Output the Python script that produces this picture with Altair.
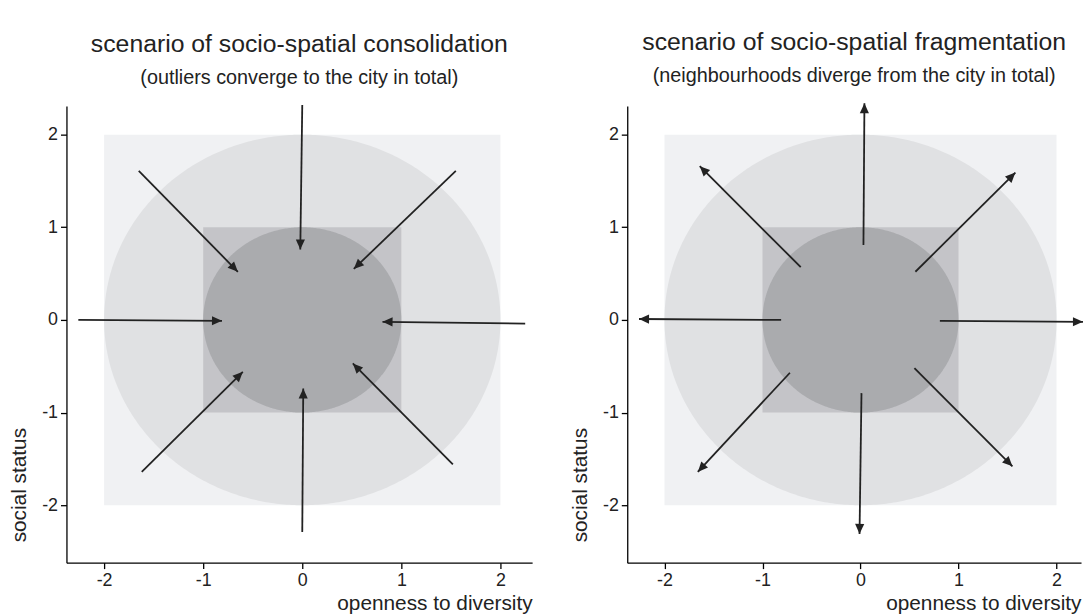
import math
import altair as alt
import pandas as pd

# ---- data -------------------------------------------------------------
titles = ["scenario of socio-spatial consolidation", "scenario of socio-spatial fragmentation"]
subtitles = ["(outliers converge to the city in total)", "(neighbourhoods diverge from the city in total)"]
tick_values = [-2, -1, 0, 1, 2]

outer_half = 2.0   # outer square / outer circle radius
inner_half = 1.0   # inner square / inner circle radius

# consolidation arrows (start -> end)
con_x0 = [0.00, -1.65, 1.55, -2.26, 2.25, -1.62, 1.52, 0.00]
con_y0 = [2.32, 1.61, 1.61, 0.00, -0.04, -1.64, -1.56, -2.29]
con_x1 = [-0.02, -0.65, 0.52, -0.81, 0.81, -0.60, 0.51, 0.01]
con_y1 = [0.76, 0.52, 0.55, -0.01, -0.02, -0.56, -0.47, -0.74]

# fragmentation arrows (start -> end)
fra_x0 = [0.03, -0.61, 0.56, -0.81, 0.81, -0.72, 0.55, 0.01]
fra_y0 = [0.81, 0.57, 0.52, 0.00, -0.01, -0.57, -0.52, -0.79]
fra_x1 = [0.04, -1.64, 1.58, -2.26, 2.27, -1.66, 1.55, -0.01]
fra_y1 = [2.34, 1.66, 1.59, 0.01, -0.02, -1.64, -1.58, -2.31]

x_domain_left = [-2.38, 2.32]
x_domain_right = [-2.38, 2.25]
y_domain = [-2.62, 2.31]
W_LEFT, W_RIGHT, H = 470, 458, 461

C_OUTER_RECT = "#f0f1f3"
C_OUTER_CIRC = "#e0e1e3"
C_INNER_RECT = "#c4c4c8"
C_INNER_CIRC = "#aaabae"
C_ARROW = "#222222"
FONT = "Liberation Sans"

ARROW_PATH = "M0,0L-0.5,1.1L0.5,1.1Z"


def circle_df(r, n=241):
    pts = []
    for i in range(n):
        t = math.pi * i / (n - 1)
        pts.append({"x": r * math.cos(t), "y": r * math.sin(t), "y2": -r * math.sin(t)})
    return pd.DataFrame(pts)


def panel(x0, y0, x1, y1, title, subtitle, x_domain, W):
    xs = alt.Scale(domain=x_domain, nice=False, zero=False)
    ys = alt.Scale(domain=y_domain, nice=False, zero=False)
    xax = alt.Axis(values=tick_values, title="openness to diversity", titleAnchor="end", grid=False,
                   labelExpr="'' + datum.value")
    yax = alt.Axis(values=tick_values, title="social status", titleAnchor="start", titleY=H - 21,
                   grid=False, labelExpr="'' + datum.value", titlePadding=12)

    rects = pd.DataFrame({
        "x": [-outer_half, -inner_half], "x2": [outer_half, inner_half],
        "y": [-outer_half, -inner_half], "y2": [outer_half, inner_half],
    })
    outer_rect = alt.Chart(rects.iloc[[0]]).mark_rect().encode(
        x=alt.X("x:Q", scale=xs, axis=xax), x2="x2", y=alt.Y("y:Q", scale=ys, axis=yax), y2="y2",
        color=alt.ColorValue(C_OUTER_RECT))
    inner_rect = alt.Chart(rects.iloc[[1]]).mark_rect().encode(
        x="x:Q", x2="x2", y="y:Q", y2="y2", color=alt.ColorValue(C_INNER_RECT))
    outer_circ = alt.Chart(circle_df(outer_half)).mark_area(color=C_OUTER_CIRC).encode(
        x="x:Q", y="y:Q", y2="y2")
    inner_circ = alt.Chart(circle_df(inner_half)).mark_area(color=C_INNER_CIRC).encode(
        x="x:Q", y="y:Q", y2="y2")

    sx = W / (x_domain[1] - x_domain[0])
    sy = H / (y_domain[1] - y_domain[0])
    ang = []
    for a, b, c, d in zip(x0, y0, x1, y1):
        deg = math.degrees(math.atan2((c - a) * sx, (d - b) * sy)) % 360
        ang.append(deg)
    arr = pd.DataFrame({"x0": x0, "y0": y0, "x1": x1, "y1": y1, "ang": ang})
    lines = alt.Chart(arr).mark_rule(color=C_ARROW, strokeWidth=1.8).encode(
        x="x0:Q", y="y0:Q", x2="x1", y2="y1")
    heads = alt.Chart(arr).mark_point(shape=ARROW_PATH, filled=True, color=C_ARROW, opacity=1,
                                      size=340, strokeWidth=0).encode(
        x="x1:Q", y="y1:Q", angle=alt.Angle("ang:Q", scale=None))

    return alt.layer(outer_rect, outer_circ, inner_rect, inner_circ, lines, heads).properties(
        width=W, height=H,
        title=alt.TitleParams(text=title, subtitle=subtitle, fontSize=25, subtitleFontSize=20,
                              fontWeight="normal", color="#222", subtitleColor="#222",
                              font=FONT, subtitleFont=FONT, subtitlePadding=12, offset=16,
                              anchor="middle"))


left = panel(con_x0, con_y0, con_x1, con_y1, titles[0], subtitles[0], x_domain_left, W_LEFT)
right = panel(fra_x0, fra_y0, fra_x1, fra_y1, titles[1], subtitles[1], x_domain_right, W_RIGHT)

chart = alt.hconcat(left, right, spacing=37).properties(
    padding={"left": 0, "top": 19, "right": 0, "bottom": 0}
).configure_view(strokeWidth=0).configure_axis(
    domainColor="#000", tickColor="#000", labelColor="#222", titleColor="#222",
    labelFont=FONT, titleFont=FONT, labelFontSize=18, titleFontSize=21,
    titleFontWeight="normal", tickSize=6, labelPadding=3, titlePadding=3,
    domainWidth=1.3, tickWidth=1.3
)

chart.save("out.html", embed_options={"renderer": "svg", "actions": False})
